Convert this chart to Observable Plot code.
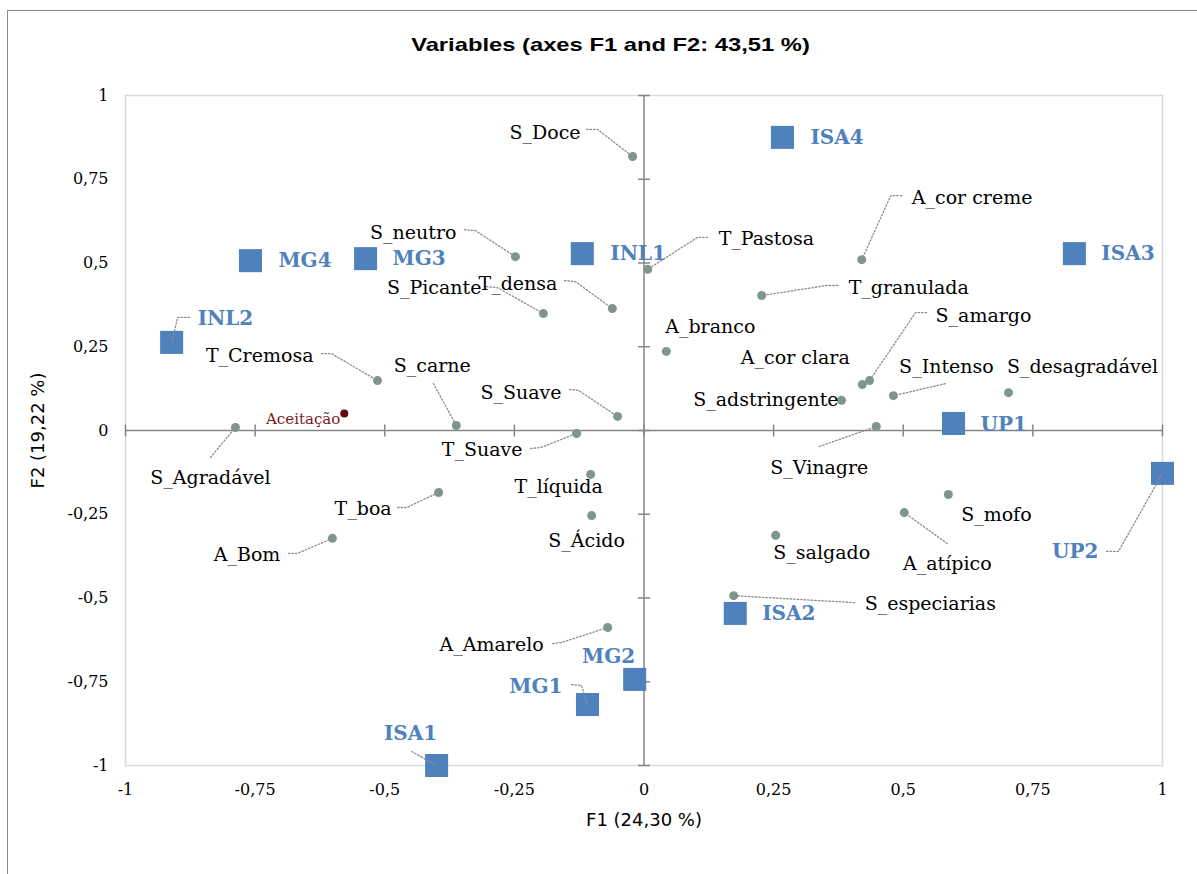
<!DOCTYPE html>
<html><head><meta charset="utf-8">
<script src="https://cdn.jsdelivr.net/npm/d3@7"></script>
<script src="https://cdn.jsdelivr.net/npm/@observablehq/plot@0.6"></script>
<style>
body{margin:0;background:#fff;overflow:hidden;width:1197px;height:874px;}
#frame{position:absolute;left:7px;top:10px;width:1300px;height:1000px;border:1.5px solid #8a8a8a;box-sizing:border-box;}
#title{position:absolute;left:0;width:1220px;top:34px;text-align:center;color:#000;}
#title span{display:inline-block;font:bold 19px "Liberation Sans",Arial,sans-serif;transform:scaleX(1.25);}
#chart{position:absolute;left:0;top:60px;}
</style></head><body>
<div id="frame"></div>
<div id="title"><span>Variables (axes F1 and F2: 43,51 %)</span></div>
<div id="chart"></div>
<script>
// ---- data ----
const variables = ["S_Doce","S_neutro","T_densa","S_Picante","T_Pastosa","T_granulada","A_cor creme","A_branco","A_cor clara","S_amargo","S_adstringente","S_Intenso","S_desagradável","S_Vinagre","T_Cremosa","S_carne","S_Suave","S_Agradável","T_Suave","T_líquida","T_boa","S_Ácido","A_Bom","A_Amarelo","S_mofo","A_atípico","S_salgado","S_especiarias"];
const varF1 = [-0.022,-0.248,-0.061,-0.194,0.007,0.227,0.420,0.043,0.421,0.435,0.381,0.481,0.703,0.448,-0.514,-0.362,-0.051,-0.788,-0.130,-0.103,-0.396,-0.101,-0.601,-0.070,0.587,0.502,0.254,0.173];
const varF2 = [0.818,0.519,0.364,0.349,0.481,0.403,0.510,0.236,0.137,0.149,0.090,0.104,0.113,0.012,0.149,0.015,0.042,0.009,-0.009,-0.131,-0.185,-0.254,-0.322,-0.588,-0.191,-0.245,-0.313,-0.493];
const suppNames = ["Aceitação"];
const suppF1 = [-0.578];
const suppF2 = [0.051];
const observations = ["ISA4","INL1","MG4","MG3","ISA3","UP1","ISA2","INL2","MG2","MG1","ISA1","UP2"];
const obsF1 = [0.267,-0.119,-0.759,-0.537,0.830,0.597,0.176,-0.911,-0.018,-0.109,-0.400,1.000];
const obsF2 = [0.875,0.528,0.507,0.513,0.528,0.021,-0.546,0.263,-0.743,-0.818,-1.000,-0.128];
const axisTicks = [-1,-0.75,-0.5,-0.25,0,0.25,0.5,0.75,1];
const xTitle = "F1 (24,30 %)";
const yTitle = "F2 (19,22 %)";

// ---- label layout (pixel offsets from the point: text x, text y, anchor, leader bends) ----
const labelLayout = {
 "S_Doce": [-52,-24,"end",[[-46,-27],[-35,-27]]],
 "S_neutro": [-59,-24,"end",[[-51,-27],[-40,-26]]],
 "T_densa": [-55,-25,"end",[[-48,-28],[-37,-27]]],
 "S_Picante": [-62,-26,"end",[[-57,-27],[-46,-26]]],
 "T_Pastosa": [71,-30,"start",[[60,-32],[50,-32]]],
 "T_granulada": [87,-8,"start",[[76,-10],[65,-10]]],
 "A_cor creme": [50,-62,"start",[[40,-64],[29,-64]]],
 "A_branco": [44,-25,"middle",null],
 "A_cor clara": [-67,-27,"middle",null],
 "S_amargo": [66,-65,"start",[[57,-68],[46,-68]]],
 "S_adstringente": [-3,0,"end",null],
 "S_Intenso": [53,-29,"middle",[[52,-12]]],
 "S_desagradável": [74,-26,"middle",null],
 "S_Vinagre": [-57,41,"middle",[[-57,20]]],
 "T_Cremosa": [-64,-25,"end",[[-56,-27],[-46,-27]]],
 "S_carne": [-24,-60,"middle",[[-23,-42]]],
 "S_Suave": [-56,-24,"end",[[-48,-27],[-39,-26]]],
 "S_Agradável": [-25,50,"middle",[[-25,30]]],
 "T_Suave": [-54,16,"end",[[-46,15],[-36,14]]],
 "T_líquida": [-32,13,"middle",null],
 "T_boa": [-47,16,"end",[[-41,15],[-32,15]]],
 "S_Ácido": [-5,25,"middle",null],
 "A_Bom": [-52,17,"end",[[-44,15],[-35,15]]],
 "A_Amarelo": [-64,17,"end",[[-55,16],[-46,15]]],
 "S_mofo": [48,20,"middle",null],
 "A_atípico": [43,51,"middle",[[43,31]]],
 "S_salgado": [46,18,"middle",null],
 "S_especiarias": [131,8,"start",[[121,7]]],
 "Aceitação": [-4,6,"end",null],
 "ISA4": [28,0,"start",null],
 "INL1": [28,0,"start",null],
 "MG4": [28,0,"start",null],
 "MG3": [27,0,"start",null],
 "ISA3": [27,0,"start",null],
 "UP1": [27,1,"start",null],
 "ISA2": [27,0,"start",null],
 "INL2": [26,-24,"start",[[18,-25],[6,-25]]],
 "MG2": [-26,-23,"middle",null],
 "MG1": [-25,-18,"end",[[-16,-20],[-6,-19]]],
 "ISA1": [-26,-32,"middle",[[-25,-14]]],
 "UP2": [-64,78,"end",[[-56,78],[-44,78]]]
};

// ---- build ----
const W = 1197, H = 800, ML = 125, MR = 35, MT = 35, MB = 95;
const kx = (W - ML - MR) / 2, ky = (H - MT - MB) / 2;
const vars = variables.map((n,i)=>({name:n,x:varF1[i],y:varF2[i],kind:"var"}));
const supp = suppNames.map((n,i)=>({name:n,x:suppF1[i],y:suppF2[i],kind:"supp"}));
const obs = observations.map((n,i)=>({name:n,x:obsF1[i],y:obsF2[i],kind:"obs"}));
const all = [...vars, ...supp, ...obs];
const labels = all.map(d=>{const L=labelLayout[d.name];return {...d, lx:d.x+L[0]/kx, ly:d.y-L[1]/ky, anchor:L[2]};});
const leaders = [];
all.forEach(d=>{const L=labelLayout[d.name]; if(!L[3]) return; L[3].forEach(p=>leaders.push({id:d.name,x:d.x+p[0]/kx,y:d.y-p[1]/ky})); leaders.push({id:d.name,x:d.x,y:d.y});});
const fmt = d => String(d).replace(".", ",");
const serif = "'DejaVu Serif', 'Liberation Serif', serif";
const sans = "'DejaVu Sans', 'Liberation Sans', sans-serif";
const tickSym = {draw(ctx, size){const r=Math.sqrt(size/Math.PI); ctx.moveTo(-r,0); ctx.lineTo(r,0);}};
const tickSymV = {draw(ctx, size){const r=Math.sqrt(size/Math.PI); ctx.moveTo(0,-r); ctx.lineTo(0,r);}};
const textMarks = [];
for (const grp of [["var","#000",19,"normal"],["obs","#4f81bd",20,"bold"],["supp","#7b1a1a",15,"normal"]]) {
  for (const a of ["start","middle","end"]) {
    textMarks.push(Plot.text(labels.filter(d=>d.kind===grp[0]&&d.anchor===a), {x:"lx", y:"ly", text:"name", textAnchor:a, fill:grp[1], fontSize:grp[2], fontWeight:grp[3], fontFamily:serif}));
  }
}
const chart = Plot.plot({
  width: W, height: H, marginLeft: ML, marginRight: MR, marginTop: MT, marginBottom: MB,
  x: {domain: [-1, 1]}, y: {domain: [-1, 1]},
  style: {background: "transparent", color: "#000"},
  marks: [
    Plot.frame({stroke: "#d9d9d9", strokeWidth: 1.5}),
    Plot.ruleX([0], {stroke: "#868686", strokeWidth: 1.5}),
    Plot.ruleY([0], {stroke: "#868686", strokeWidth: 1.5}),
    Plot.dot(axisTicks, {x: 0, y: d=>d, symbol: tickSym, r: 6, stroke: "#868686", strokeWidth: 1.5}),
    Plot.dot(axisTicks, {x: d=>d, y: 0, symbol: tickSymV, r: 6, stroke: "#868686", strokeWidth: 1.5}),
    Plot.axisX({ticks: axisTicks, tickSize: 0, tickPadding: 18, tickFormat: fmt, fontSize: 16, fontFamily: serif, label: null}),
    Plot.axisY({ticks: axisTicks, tickSize: 0, tickPadding: 17, tickFormat: fmt, fontSize: 16, fontFamily: serif, label: null}),
    Plot.text([xTitle], {frameAnchor: "bottom", dy: 55, lineAnchor: "middle", textAnchor: "middle", text: d=>d, fontSize: 18, fontFamily: sans}),
    Plot.text([yTitle], {frameAnchor: "left", dx: -87, rotate: -90, lineAnchor: "middle", textAnchor: "middle", text: d=>d, fontSize: 18, fontFamily: sans}),
    Plot.dot(vars, {x: "x", y: "y", r: 4.5, fill: "#7f968e"}),
    Plot.dot(supp, {x: "x", y: "y", r: 4, fill: "#5c0a0a"}),
    Plot.dot(obs, {x: "x", y: "y", symbol: "square", r: 13, fill: "#4f81bd"}),
    Plot.line(leaders, {x: "x", y: "y", z: "id", stroke: "#8c8c8c", strokeWidth: 1.3, strokeDasharray: "1.5 2"}),
    ...textMarks
  ]
});
document.getElementById("chart").append(chart);
</script>
</body></html>
